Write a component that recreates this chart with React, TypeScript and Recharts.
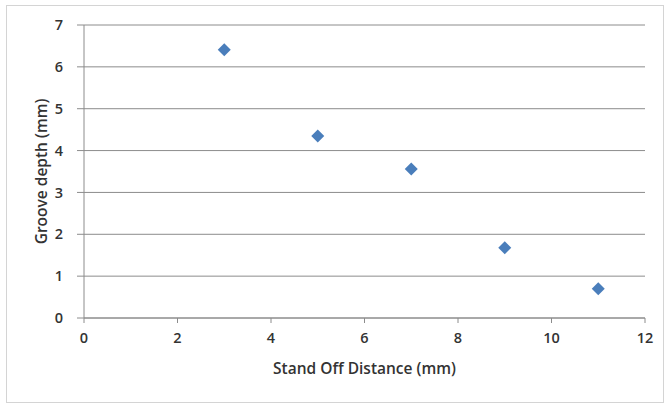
import React from 'react'
import { ScatterChart, Scatter, XAxis, YAxis, CartesianGrid } from 'recharts'

const standOff = [3, 5, 7, 9, 11]
const grooveDepth = [6.41, 4.35, 3.56, 1.68, 0.7]
const xTicks = [0, 2, 4, 6, 8, 10, 12]
const yTicks = [0, 1, 2, 3, 4, 5, 6, 7]

const points = standOff.map((x, i) => ({ x, y: grooveDepth[i] }))

const font = '"Open Sans", "Liberation Sans", sans-serif'

// diamond marker like Excel's default
function Diamond(props: any) {
  const { cx, cy } = props
  const r = 6.5
  return (
    <polygon
      points={`${cx},${cy - r} ${cx + r},${cy} ${cx},${cy + r} ${cx - r},${cy}`}
      fill="#4a7ebb"
    />
  )
}

export default function App() {
  return (
    <div style={{ position: 'absolute', left: 0, top: 0, width: 668, height: 404, background: '#fff' }}>
      <div style={{ position: 'absolute', left: 6, top: 5, width: 656, height: 396, border: '1px solid #d4d4d4' }} />
      <div style={{ position: 'absolute', left: 0, top: 0 }}>
        <ScatterChart width={668} height={404} margin={{ top: 25, right: 23, left: 0, bottom: 0 }}>
          <CartesianGrid vertical={false} stroke="#8c8c8c" strokeWidth={1} />
          <XAxis
            type="number"
            dataKey="x"
            domain={[0, 12]}
            ticks={xTicks}
            height={86}
            stroke="#8c8c8c"
            tickSize={5}
            tickMargin={10}
            tick={{ fill: '#333', fontSize: 14.5, fontFamily: font, fontWeight: 600 }}
            label={{ value: 'Stand Off Distance (mm)', position: 'insideTop', offset: 45, fill: '#333', fontSize: 15.5, fontFamily: font, fontWeight: 600 }}
          />
          <YAxis
            type="number"
            dataKey="y"
            domain={[0, 7]}
            ticks={yTicks}
            width={84}
            stroke="#8c8c8c"
            tickSize={7}
            tickMargin={14}
            tick={{ fill: '#333', fontSize: 14.5, fontFamily: font, fontWeight: 600 }}
            label={{ value: 'Groove depth (mm)', angle: -90, position: 'insideLeft', offset: 41, style: { textAnchor: 'middle' }, fill: '#333', fontSize: 15.5, fontFamily: font, fontWeight: 600 }}
          />
          <Scatter data={points} shape={Diamond} isAnimationActive={false} />
        </ScatterChart>
      </div>
    </div>
  )
}
